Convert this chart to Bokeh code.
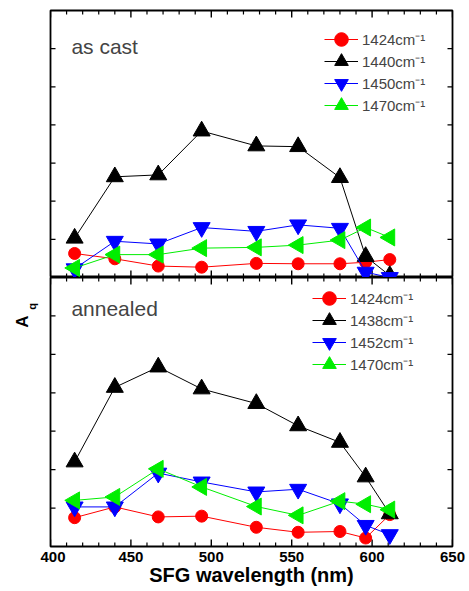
import math
from bokeh.plotting import figure
from bokeh.models import Range1d, FixedTicker, Legend, LegendItem, Label
from bokeh.layouts import column, row
from bokeh.embed import file_html
from bokeh.resources import INLINE

# ---------------- data ----------------
wavelength = [415, 440, 467, 494, 528, 554, 580, 596, 611]

cast_labels = ["1424cm\u207b\u00b9", "1440cm\u207b\u00b9", "1450cm\u207b\u00b9", "1470cm\u207b\u00b9"]
cast_1424 = [0.63, 0.49, 0.30, 0.27, 0.37, 0.36, 0.36, 0.40, 0.47]
cast_1440 = [1.03, 2.64, 2.69, 3.84, 3.45, 3.43, 2.62, 0.55, 0.05]
cast_1450 = [0.23, 0.95, 0.88, 1.31, 1.21, 1.38, 1.29, 0.14, 0.00]
cast_1470 = [0.25, 0.60, 0.60, 0.77, 0.79, 0.85, 0.98, 1.31, 1.05]

ann_labels = ["1424cm\u207b\u00b9", "1438cm\u207b\u00b9", "1452cm\u207b\u00b9", "1470cm\u207b\u00b9"]
ann_1424 = [0.75, 1.03, 0.77, 0.79, 0.50, 0.37, 0.39, 0.22, 0.83]
ann_1438 = [2.20, 4.14, 4.67, 4.10, 3.72, 3.14, 2.71, 1.81, 0.85]
ann_1452 = [1.03, 1.03, 1.91, 1.68, 1.42, 1.49, 1.11, 0.55, 0.31]
ann_1470 = [1.20, 1.29, 2.02, 1.55, 1.04, 0.81, 1.18, 1.10, 0.96]

x_major_ticks = [400, 450, 500, 550, 600, 650]
x_minor_ticks = [410, 420, 430, 440, 460, 470, 480, 490, 510, 520, 530, 540,
                 560, 570, 580, 590, 610, 620, 630, 640]
y_ticks = [1, 2, 3, 4, 5, 6]

FONT = "Liberation Sans"
colors = ["#ff0000", "#000000", "#0000ff", "#00ee00"]
markers = [("circle", 0.0, 12), ("triangle", 0.0, 17),
           ("inverted_triangle", 0.0, 17), ("triangle", math.pi / 2, 17)]

X0, X1, Y0, Y1 = 400, 650, 0, 7
FRAME_W = 402
LABEL_W = 40
TOTAL_H = 589


def frame_ticks(p, frame_h):
    dy = (Y1 - Y0) / frame_h      # data units per pixel (vertical)
    dx = (X1 - X0) / FRAME_W      # data units per pixel (horizontal)
    # x ticks on bottom and top edges, as short dash markers pointing inward
    for ticks, L, w in ((x_major_ticks, 7, 1.4), (x_minor_ticks, 4, 1.2)):
        n = len(ticks)
        p.scatter(x=list(ticks), y=[Y0 + 0.5 * L * dy] * n, marker="dash",
                  size=L, angle=math.pi / 2, line_color="black", line_width=w)
        p.scatter(x=list(ticks), y=[Y1 - 0.5 * L * dy] * n, marker="dash",
                  size=L, angle=math.pi / 2, line_color="black", line_width=w)
    # y ticks on left and right edges
    n = len(y_ticks)
    p.scatter(x=[X0 + 2.5 * dx] * n, y=list(y_ticks), marker="dash", size=5,
              line_color="black", line_width=1.3)
    p.scatter(x=[X1 - 2.5 * dx] * n, y=list(y_ticks), marker="dash", size=5,
              line_color="black", line_width=1.3)


def make_panel(series, labels, frame_h, top_border, with_xaxis, panel_text,
               text_y, legend_x, legend_y0):
    p = figure(x_range=Range1d(X0, X1), y_range=Range1d(Y0, Y1),
               frame_width=FRAME_W, frame_height=frame_h,
               output_backend="svg", toolbar_location=None,
               x_axis_location="below" if with_xaxis else None,
               y_axis_location=None,
               min_border_left=10, min_border_right=16,
               min_border_top=top_border, min_border_bottom=0)
    p.outline_line_color = "black"
    p.outline_line_width = 1.8
    p.xgrid.visible = False
    p.ygrid.visible = False
    frame_ticks(p, frame_h)

    for i, (vals, lab, col, (mk, ang, sz)) in enumerate(
            zip(series, labels, colors, markers)):
        lr = p.line(wavelength, vals, line_color=col, line_width=1)
        sr = p.scatter(wavelength, vals, marker=mk, angle=ang, size=sz,
                       fill_color=col, line_color=col)
        leg = Legend(items=[LegendItem(label=lab, renderers=[lr, sr])],
                     location=(legend_x, legend_y0 - 22 * i),
                     padding=0, spacing=0, margin=0,
                     glyph_width=34, glyph_height=38, label_standoff=4,
                     label_text_font=FONT, label_text_font_size="15px",
                     border_line_color=None, background_fill_alpha=0)
        p.add_layout(leg, "center")

    p.add_layout(Label(x=413, y=text_y, text=panel_text, text_font=FONT,
                       text_font_size="21px", text_baseline="alphabetic"))
    return p


p1 = make_panel([cast_1424, cast_1440, cast_1450, cast_1470], cast_labels,
                267, 10, False, "as cast", 6.06, 274, 219)
p2 = make_panel([ann_1424, ann_1438, ann_1452, ann_1470], ann_labels,
                269, 0, True, "annealed", 6.19, 262, 229)

xa = p2.below[0]
xa.ticker = FixedTicker(ticks=x_major_ticks)
xa.major_tick_in = 0
xa.major_tick_out = 0
xa.minor_tick_in = 0
xa.minor_tick_out = 0
xa.axis_line_color = None
xa.major_label_text_font = FONT
xa.major_label_text_font_size = "15px"
xa.major_label_text_font_style = "bold"
xa.major_label_text_color = "black"
xa.major_label_standoff = 5
xa.axis_label = "SFG wavelength (nm)"
xa.axis_label_text_font = FONT
xa.axis_label_text_font_size = "20px"
xa.axis_label_text_font_style = "bold"
xa.axis_label_text_color = "black"
xa.axis_label_standoff = -1

# narrow strip on the left holding the rotated y-axis title A_q
ylab = figure(width=LABEL_W, height=TOTAL_H,
              x_range=Range1d(0, LABEL_W), y_range=Range1d(0, TOTAL_H),
              x_axis_location=None, y_axis_location=None,
              output_backend="svg", toolbar_location=None,
              min_border=0, outline_line_color=None)
ylab.xgrid.visible = False
ylab.ygrid.visible = False
ylab.add_layout(Label(x=22, y=TOTAL_H - 321, text="A", angle=math.pi / 2,
                      text_align="center", text_baseline="middle",
                      text_font=FONT, text_font_size="17px",
                      text_font_style="bold", text_color="black"))
ylab.add_layout(Label(x=31, y=TOTAL_H - 306, text="q", angle=math.pi / 2,
                      text_align="center", text_baseline="middle",
                      text_font=FONT, text_font_size="11px",
                      text_font_style="bold", text_color="black"))

layout = row(ylab, column(p1, p2, spacing=0), spacing=0)
open("out.html", "w").write(file_html(layout, INLINE))
